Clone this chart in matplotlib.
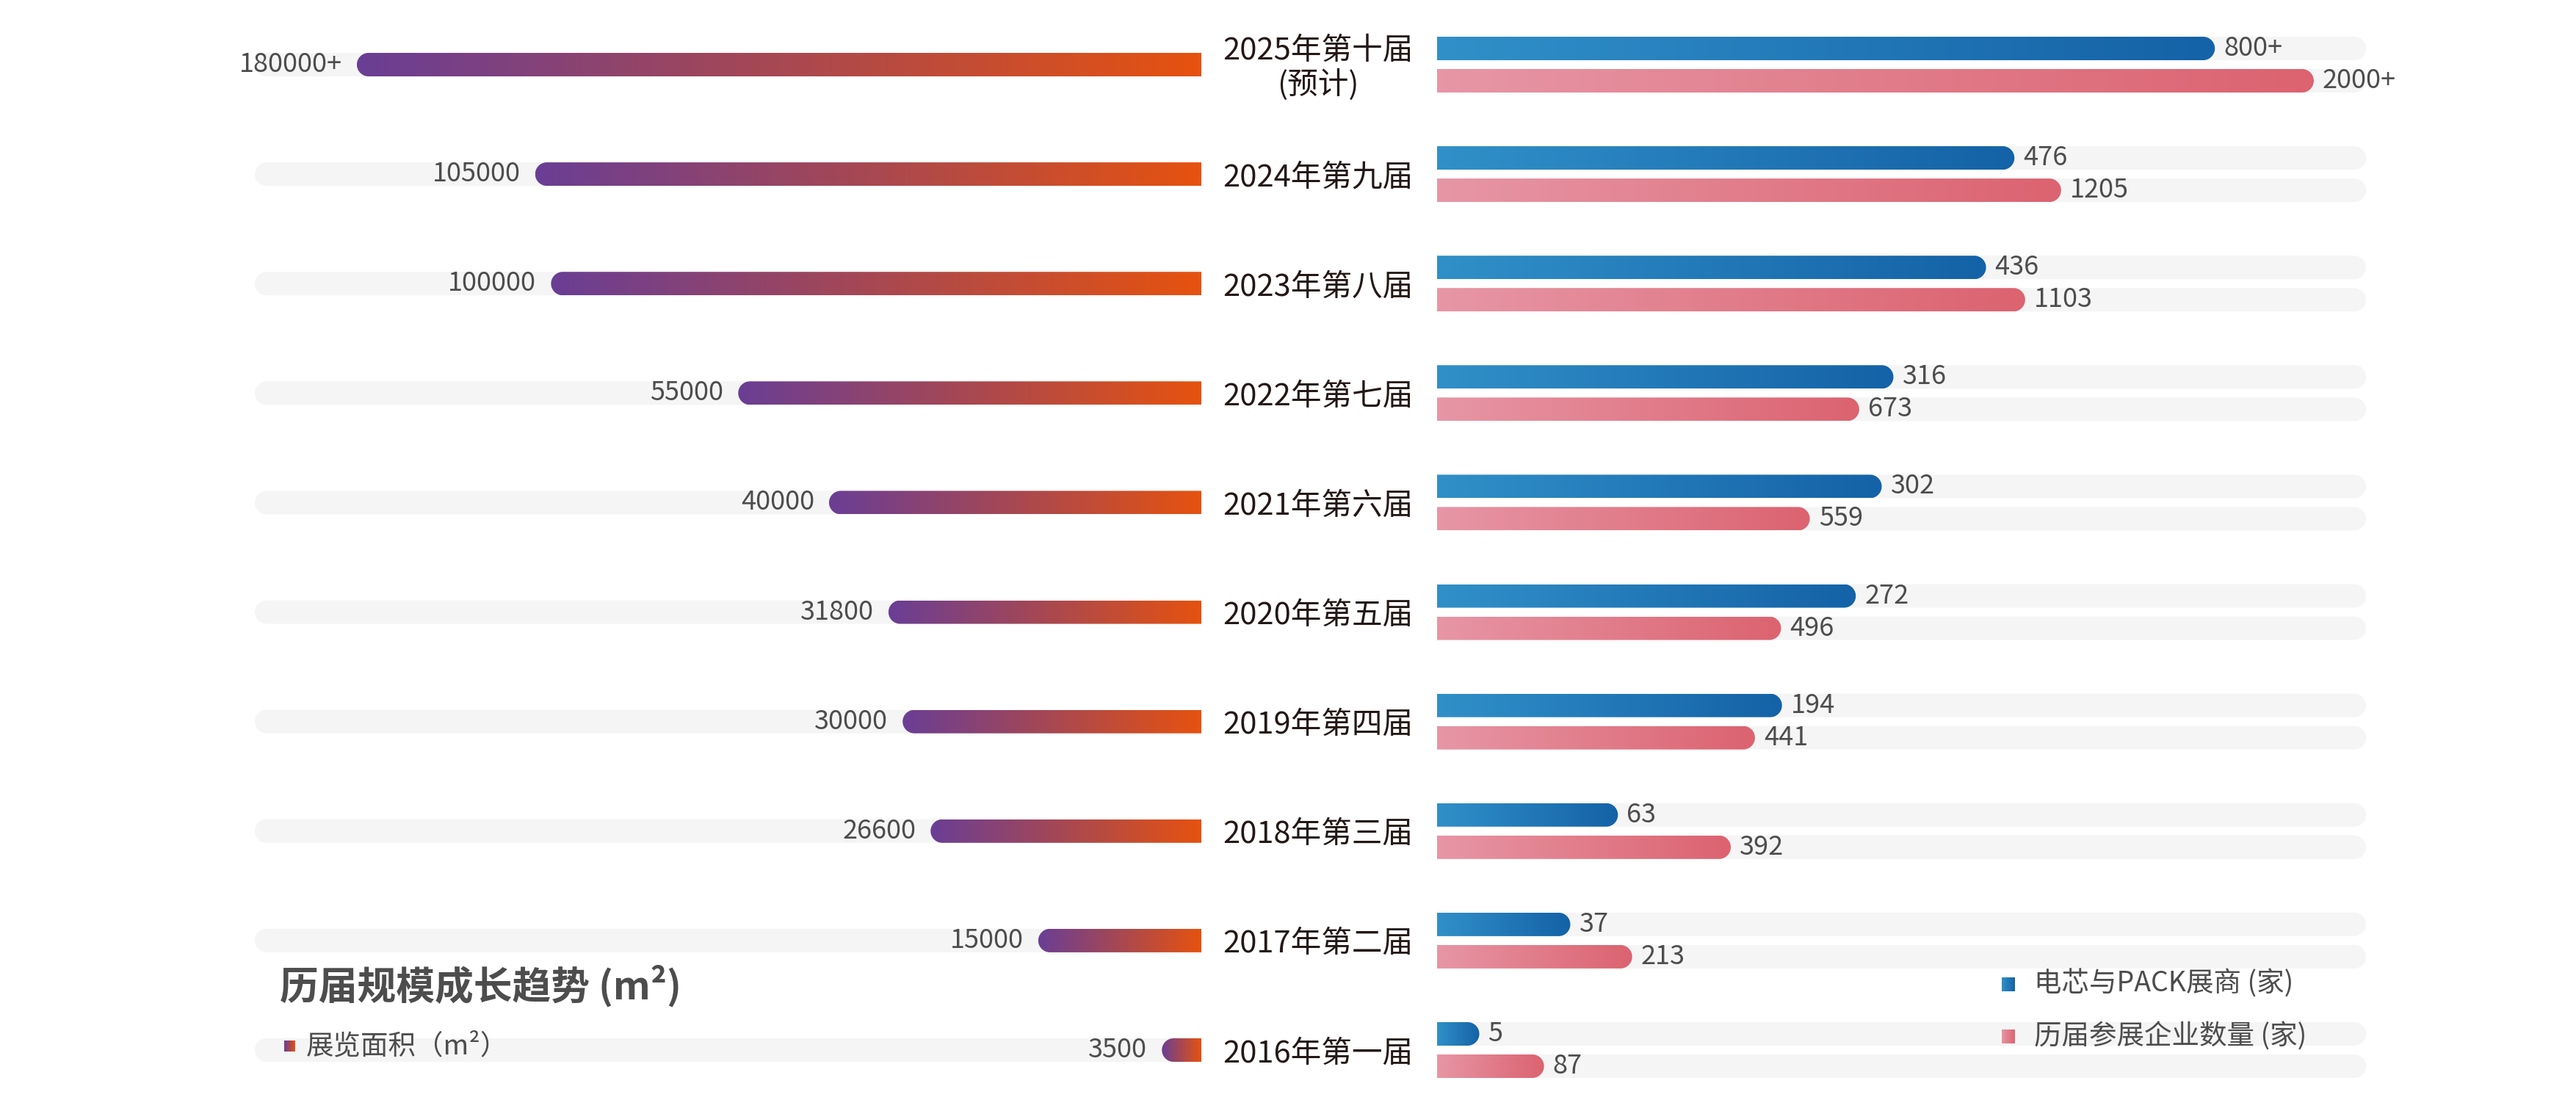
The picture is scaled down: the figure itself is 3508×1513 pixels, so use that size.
"""
历届规模成长趋势：左侧展览面积，右侧电芯与PACK展商、参展企业数量
"""
import numpy as np
import matplotlib
matplotlib.use('Agg')
import matplotlib.pyplot as plt
from matplotlib.colors import LinearSegmentedColormap
from matplotlib.patches import PathPatch
from matplotlib.path import Path

plt.rcParams['font.family'] = ['Noto Sans CJK SC', 'DejaVu Sans']

# 数据
sessions = ['2025年第十届\n(预计)', '2024年第九届', '2023年第八届', '2022年第七届',
            '2021年第六届', '2020年第五届', '2019年第四届', '2018年第三届',
            '2017年第二届', '2016年第一届']
forecast = [True, False, False, False, False, False, False, False, False, False]
area = [180000, 105000, 100000, 55000, 40000, 31800, 30000, 26600, 15000, 3500]
cell_pack = [800, 476, 436, 316, 302, 272, 194, 63, 37, 5]
exhibitors = [2000, 1205, 1103, 673, 559, 496, 441, 392, 213, 87]

W, H = 3508, 1513
ROW_TOP, ROW_BOTTOM = 88, 1430
BAR_H = 32
PAIR_OFF = 22

AREA_C = ('#6a3e95', '#e6520f')
CELL_C = ('#3190c8', '#1462a7')
EXH_C = ('#e796a6', '#dc6370')
TRACK_C = '#f5f5f5'
TEXT_C = '#4d4d4d'
YEAR_C = '#231815'

fig = plt.figure(figsize=(W / 100, H / 100), dpi=100)
fig.patch.set_facecolor('white')

# 画布：坐标即像素
canvas = fig.add_axes([0, 0, 1, 1])
canvas.set_axis_off()


def power_scale(p):
    return (lambda x: np.sign(x) * np.abs(x) ** p,
            lambda x: np.sign(x) * np.abs(x) ** (1 / p))


def scale_axes(x0, x1, xlim):
    ax = fig.add_axes([x0 / W, (H - ROW_BOTTOM) / H, (x1 - x0) / W, (ROW_BOTTOM - ROW_TOP) / H])
    ax.set_ylim(len(sessions) - 1, 0)
    ax.set_axis_off()
    return ax


# 面积用 asinh 刻度，展商数量用幂刻度（设计稿并非线性）
ax_area = scale_axes(347, 1636, None)
ax_area.set_xscale('asinh', linear_width=30000)
ax_area.set_xlim(244000, 0)

ax_cell = scale_axes(1957, 3222, None)
ax_cell.set_xscale('function', functions=power_scale(0.574))
ax_cell.set_xlim(0, 1090)

ax_exh = scale_axes(1957, 3222, None)
ax_exh.set_xscale('function', functions=power_scale(0.671))
ax_exh.set_xlim(0, 2180)


def bar_path(xn, xf, yc, h):
    """近端方角，远端半圆"""
    r = h / 2
    d = 1 if xf >= xn else -1
    xc = xf - d * r
    t = np.linspace(-np.pi / 2, np.pi / 2, 40)
    arc = np.column_stack([xc + d * r * np.cos(t), yc + r * np.sin(t)])
    verts = np.vstack([[xn, yc - r], arc, [xn, yc + r], [xn, yc - r]])
    codes = [Path.MOVETO] + [Path.LINETO] * (len(verts) - 2) + [Path.CLOSEPOLY]
    return Path(verts, codes)


def track(xn, xf, yc):
    canvas.add_patch(PathPatch(bar_path(xn, xf, yc, BAR_H), facecolor=TRACK_C,
                               edgecolor='none', zorder=1))


def grad_rect(x0, x1, y0, y1, colors, clip=None, z=2):
    cmap = LinearSegmentedColormap.from_list('g', list(colors))
    im = canvas.imshow(np.linspace(0, 1, 256).reshape(1, -1), extent=(x0, x1, y0, y1),
                       cmap=cmap, aspect='auto', interpolation='bilinear', zorder=z)
    if clip is not None:
        im.set_clip_path(clip)
    return im


def grad_bar(xn, xf, yc, colors):
    patch = PathPatch(bar_path(xn, xf, yc, BAR_H), facecolor='none', edgecolor='none')
    canvas.add_patch(patch)
    grad_rect(min(xn, xf), max(xn, xf), yc - BAR_H / 2, yc + BAR_H / 2, colors, clip=patch)


def label(v, fc):
    return f'{v}+' if fc else str(v)


for i in range(len(sessions)):
    # 左侧：展览面积
    x0, yc = ax_area.transData.transform((0, i))
    xt = ax_area.transData.transform((ax_area.get_xlim()[0], i))[0]
    track(x0, xt, yc)
    xf = ax_area.transData.transform((area[i], i))[0]
    grad_bar(x0, xf, yc, AREA_C)
    canvas.text(xf - 20, yc, label(area[i], forecast[i]), ha='right', va='center',
                fontsize=26, color=TEXT_C, zorder=5)

    # 中间：届次
    canvas.text(1795, yc - 5, sessions[i], ha='center', va='center', fontsize=30,
                color=YEAR_C, linespacing=1.1, zorder=5)

    # 右侧：电芯与PACK展商 / 参展企业
    for ax, vals, colors, dy in ((ax_cell, cell_pack, CELL_C, PAIR_OFF),
                                 (ax_exh, exhibitors, EXH_C, -PAIR_OFF)):
        r0, ry = ax.transData.transform((0, i))
        ry += dy
        rt = ax.transData.transform((ax.get_xlim()[1], i))[0]
        track(r0, rt, ry)
        rf = ax.transData.transform((vals[i], i))[0]
        grad_bar(r0, rf, ry, colors)
        canvas.text(rf + 12, ry, label(vals[i], forecast[i]), ha='left', va='center',
                    fontsize=26, color=TEXT_C, zorder=5)

# 标题与图例
canvas.text(381, H - 1343, '历届规模成长趋势 (m²)', ha='left', va='center', fontsize=38,
            fontweight='bold', color=TEXT_C, zorder=5)
grad_rect(387, 402, H - 1432, H - 1417, AREA_C, z=5)
canvas.text(417, H - 1425, '展览面积（m²）', ha='left', va='center', fontsize=27,
            color=TEXT_C, zorder=5)

grad_rect(2726, 2744, H - 1350, H - 1331, CELL_C, z=5)
canvas.text(2770, H - 1340, '电芯与PACK展商 (家)', ha='left', va='center', fontsize=27,
            color=TEXT_C, zorder=5)
grad_rect(2726, 2744, H - 1421, H - 1402, EXH_C, z=5)
canvas.text(2770, H - 1412, '历届参展企业数量 (家)', ha='left', va='center', fontsize=27,
            color=TEXT_C, zorder=5)

canvas.set_xlim(0, W)
canvas.set_ylim(0, H)

fig.savefig('out.png', dpi=100, facecolor='white')
plt.close(fig)
